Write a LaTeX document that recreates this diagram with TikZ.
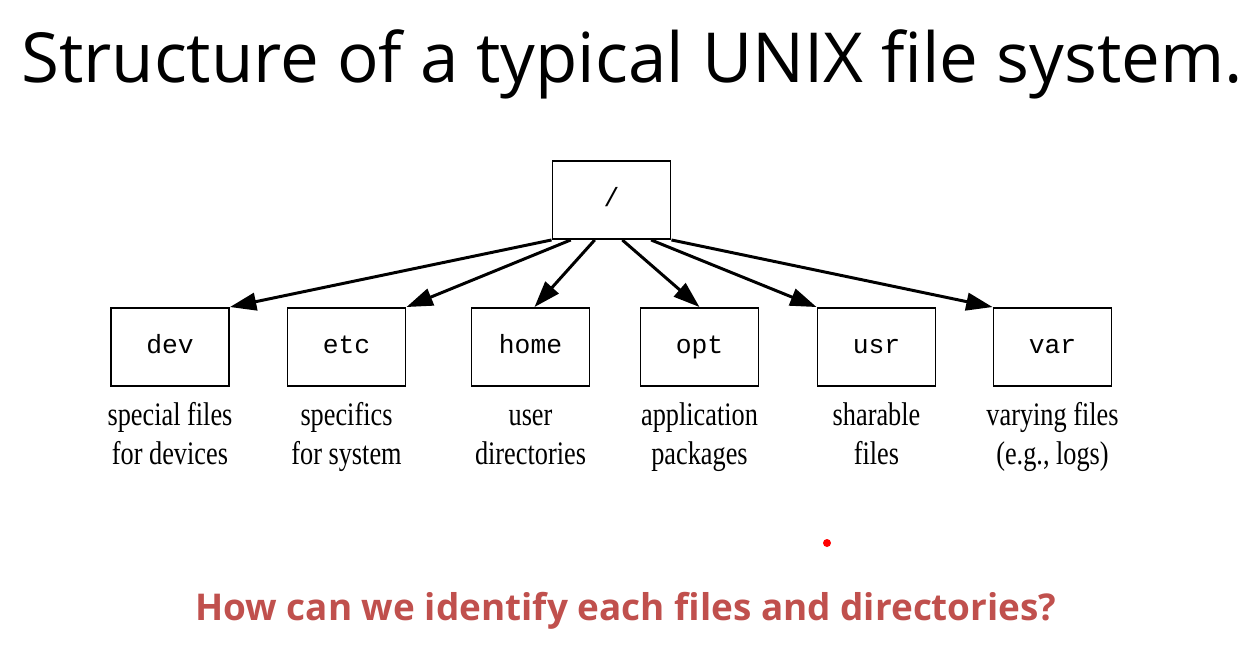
\documentclass[tikz,border=0pt]{standalone}
\usepackage{fontspec}
\setmainfont{Liberation Serif}
\setmonofont{Liberation Mono}
\newfontfamily\titlefont{Open Sans}
\newfontfamily\capfont[FakeStretch=0.8]{Liberation Serif}
\usetikzlibrary{arrows.meta,calc}
\definecolor{qred}{RGB}{192,80,77}

\begin{document}
\begin{tikzpicture}[x=0.02cm, y=-0.02cm,
    dirbox/.style={draw, line width=1.1pt, minimum width=2.36cm, minimum height=1.56cm,
        text height=0.9em, text depth=0.14em, font=\ttfamily\fontsize{15pt}{17pt}\selectfont},
    caption/.style={align=center, font=\capfont\fontsize{18.7pt}{22.1pt}\selectfont},
    link/.style={-{Triangle[length=15pt, width=10pt]}, line width=1.7pt}]
    \useasboundingbox (0,0) rectangle (1248,646);

    \node[anchor=base, font=\titlefont\fontsize{39.3pt}{46pt}\selectfont] (title) at (632,82) {Structure of a typical UNIX file system.};

    % root and directories
    \node[dirbox] (root) at (611.5,200) {/};
    \node[dirbox] (dev)  at (170,347)   {dev};
    \node[dirbox] (etc)  at (346.5,347) {etc};
    \node[dirbox] (home) at (530.5,347) {home};
    \node[dirbox] (opt)  at (699.5,347) {opt};
    \node[dirbox] (usr)  at (876.5,347) {usr};
    \node[dirbox] (var)  at (1052.5,347) {var};

    \draw[link] (root.south west) -- (dev.north east);
    \draw[link] ($(root.south west)!0.16!(root.south east)$) -- (etc.north east);
    \draw[link] ($(root.south west)!0.36!(root.south east)$) -- ($(home.north)+(4,0)$);
    \draw[link] ($(root.south west)!0.59!(root.south east)$) -- (opt.north);
    \draw[link] ($(root.south west)!0.83!(root.south east)$) -- (usr.north west);
    \draw[link] (root.south east) -- (var.north west);

    % captions
    \node[caption] (devtxt)  at (170,437)   {special files\strut\\for devices\strut};
    \node[caption] (etctxt)  at (346.5,437) {specifics\strut\\for system\strut};
    \node[caption] (hometxt) at (530.5,437) {user\strut\\directories\strut};
    \node[caption] (opttxt)  at (699.5,437) {application\strut\\packages\strut};
    \node[caption] (usrtxt)  at (876.5,437) {sharable\strut\\files\strut};
    \node[caption] (vartxt)  at (1052.5,437) {varying files\strut\\(e.g., logs)\strut};

    \fill[red] (827,543) circle (4);
    \node[anchor=base, text=qred, font=\titlefont\bfseries\fontsize{21pt}{25pt}\selectfont] (question) at (626,620) {How can we identify each files and directories?};
\end{tikzpicture}
\end{document}
